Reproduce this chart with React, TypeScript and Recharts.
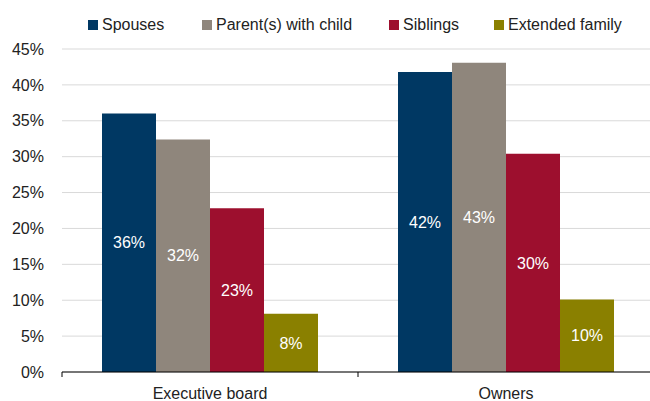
import React from 'react';
import { BarChart, Bar, XAxis, YAxis, CartesianGrid, Legend, LabelList } from 'recharts';

const categories = ['Executive board', 'Owners'];
const spouses = [36.0, 41.8];
const parents = [32.4, 43.1];
const siblings = [22.8, 30.4];
const extended = [8.1, 10.1];
const yTicks = [0, 5, 10, 15, 20, 25, 30, 35, 40, 45];

const seriesNames = ['Spouses', 'Parent(s) with child', 'Siblings', 'Extended family'];
const seriesKeys = ['spouses', 'parents', 'siblings', 'extended'];
const seriesColors = ['#003863', '#8f867c', '#9d0f2e', '#8a8000'];

const data = categories.map((c, i) => ({
  name: c,
  spouses: spouses[i],
  parents: parents[i],
  siblings: siblings[i],
  extended: extended[i],
}));

const FONT = '"Liberation Sans", Arial, Helvetica, sans-serif';
const legendItemWidths = [114, 187, 105, 140];

const XTick = (props: any) => {
  const { x, y, payload, index, visibleTicksCount } = props;
  const off = payload.offset || 0;
  const axisY = y - 15;
  return (
    <g>
      <line x1={x - off} x2={x - off} y1={axisY} y2={axisY + 5} stroke="#000" strokeWidth={1} />
      {index === visibleTicksCount - 1 && (
        <line x1={x + off} x2={x + off} y1={axisY} y2={axisY + 5} stroke="#000" strokeWidth={1} />
      )}
      <text x={x} y={y} dy={12} textAnchor="middle" fill="#222" fontSize={16} fontFamily={FONT}>
        {payload.value}
      </text>
    </g>
  );
};

const LegendContent = () => (
  <div style={{ display: 'flex', alignItems: 'center', fontFamily: FONT, fontSize: 16, color: '#222', height: 20 }}>
    {seriesNames.map((n, i) => (
      <div key={n} style={{ display: 'flex', alignItems: 'center', width: legendItemWidths[i], whiteSpace: 'nowrap' }}>
        <span style={{ display: 'inline-block', width: 10, height: 10, background: seriesColors[i], marginRight: 4, flex: 'none' }} />
        <span>{n}</span>
      </div>
    ))}
  </div>
);

export default function App() {
  return (
    <div style={{ position: 'absolute', left: 0, top: 0, width: 650, height: 401, overflow: 'hidden', background: '#fff' }}>
      <BarChart
        width={660}
        height={401}
        data={data}
        margin={{ top: 49, right: 6, left: 0, bottom: 0 }}
        barCategoryGap={40}
        barGap={0}
      >
        <CartesianGrid vertical={false} stroke="#d9d9d9" />
        <XAxis
          dataKey="name"
          height={29}
          axisLine={{ stroke: '#000' }}
          tickLine={false}
          tickSize={0}
          tickMargin={15}
          tick={<XTick />}
          interval={0}
        />
        <YAxis
          width={62}
          domain={[0, 45]}
          ticks={yTicks}
          axisLine={false}
          tickLine={false}
          tickSize={6}
          tickMargin={12}
          tickFormatter={(v: number) => `${v}%`}
          tick={{ fill: '#222', fontSize: 16, fontFamily: FONT }}
        />
        <Legend
          layout="horizontal"
          verticalAlign="middle"
          align="center"
          wrapperStyle={{ top: 15, left: 88, width: 560 }}
          content={<LegendContent />}
        />
        {seriesKeys.map((k, i) => (
          <Bar key={k} dataKey={k} name={seriesNames[i]} fill={seriesColors[i]} isAnimationActive={false}>
            <LabelList
              dataKey={k}
              position="center"
              fill="#fff"
              fontSize={16}
              fontFamily={FONT}
              formatter={(v: any) => `${Math.round(Number(v))}%`}
            />
          </Bar>
        ))}
      </BarChart>
    </div>
  );
}
